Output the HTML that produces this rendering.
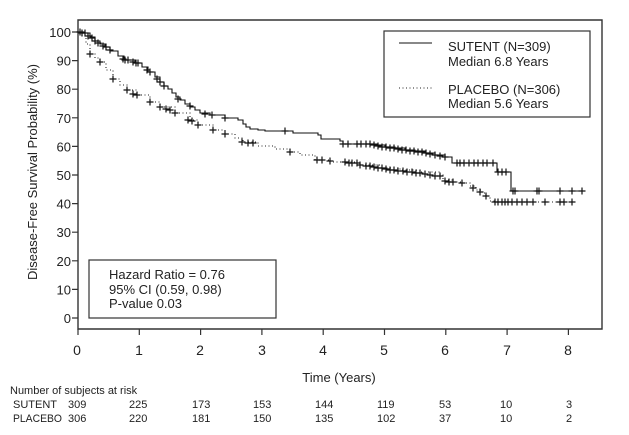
<!DOCTYPE html>
<html><head><meta charset="utf-8"><style>
html,body{margin:0;padding:0;background:#fff;}
svg{display:block;font-family:"Liberation Sans",Arial,sans-serif;}
</style></head><body>
<svg width="629" height="435" viewBox="0 0 629 435" xmlns="http://www.w3.org/2000/svg">
<defs>
<marker id="cr" markerUnits="userSpaceOnUse" markerWidth="10" markerHeight="10" refX="5" refY="5" overflow="visible">
<path d="M1.5 5H8.5M5 1.5V8.5" stroke="#111" stroke-width="1.2" fill="none"/>
</marker>
</defs>
<rect width="629" height="435" fill="#fff"/>
<!-- frame -->
<path d="M78 20H602V329H78Z" fill="none" stroke="#333" stroke-width="1.4"/>
<!-- y ticks -->
<g stroke="#333" stroke-width="1.2">
<path d="M72 32H78M72 60.6H78M72 89.2H78M72 117.8H78M72 146.4H78M72 175H78M72 203.6H78M72 232.2H78M72 260.8H78M72 289.4H78M72 318H78"/>
<path d="M78 329V335M139.3 329V335M200.6 329V335M261.9 329V335M323.2 329V335M384.5 329V335M445.8 329V335M507.1 329V335M568.4 329V335"/>
</g>
<g font-size="13" fill="#222" text-anchor="end">
<text x="71" y="37">100</text><text x="71" y="65.6">90</text><text x="71" y="94.2">80</text><text x="71" y="122.8">70</text><text x="71" y="151.4">60</text><text x="71" y="180">50</text><text x="71" y="208.6">40</text><text x="71" y="237.2">30</text><text x="71" y="265.8">20</text><text x="71" y="294.4">10</text><text x="71" y="323">0</text>
</g>
<g font-size="14" fill="#222" text-anchor="middle">
<text x="77" y="355">0</text><text x="139" y="355">1</text><text x="200" y="355">2</text><text x="262" y="355">3</text><text x="323" y="355">4</text><text x="384" y="355">5</text><text x="445" y="355">6</text><text x="507" y="355">7</text><text x="568" y="355">8</text>
</g>
<text x="339" y="382" font-size="13" fill="#222" text-anchor="middle">Time (Years)</text>
<text transform="translate(37,172) rotate(-90)" font-size="13" fill="#222" text-anchor="middle">Disease-Free Survival Probability (%)</text>

<!-- SUTENT solid step -->
<path fill="none" stroke="#111" stroke-width="1.1" d="M78 32H85V33H90V37H95V41H100V44H105V47H110V51H118V56H124V60H135V63H142V67H148V72H155V77H160V82H164V86H168V89H172V93H176V97H180V100H185V104H190V107H195V110H200V113H210V115H225V118H238V120H243V124H246V127H250V129H258V130H265V131H293V133H318V135H321V139H340V141H343V144H377V145H385V147H395V148H405V150H415V151H425V153H435V155H445V157H452V163H497V172H511V191H584"/>
<!-- PLACEBO dotted step -->
<path fill="none" stroke="#222" stroke-width="1.1" stroke-dasharray="1 2.5" d="M78 32H82V36H86V44H90V54H95V58H100V62H106V70H113V79H120V85H127V90H137V95H150V102H160V107H175V113H190V120H198V125H213V130H225V134H235V138H243V142H258V146H275V149H290V152H300V155H315V160H330V162H355V163H360V165H380V168H400V170H420V172H440V175H443V180H452V182H462V183H470V186H476V190H482V193H486V196H490V201H494V202H574"/>
<!-- censor marks SUTENT -->
<polyline fill="none" stroke="none" marker-start="url(#cr)" marker-mid="url(#cr)" marker-end="url(#cr)" points="80,32 82,33 85,33 88,36 92,38 95,41 98,43 103,46 106,47 110,50 123,59 125,60 128,60 133,62 136,63 138,63 147,70 150,72 157,79 160,82 164,86 178,99 190,106 205,114 212,115 225,118 285,131 343,144 348,144 357,144 361,144 366,144 370,144 374,145 378,146 382,147 386,147 390,148 394,148 398,149 402,150 406,150 410,151 414,151 418,152 422,152 426,153 430,154 435,155 440,156 445,157 457,163 460,163 464,163 469,163 474,163 478,163 483,163 487,163 493,163 498,172 502,172 506,172 513,191 515,191 537,191 539,191 560,191 572,191 582,191"/>
<!-- censor marks PLACEBO -->
<polyline fill="none" stroke="none" marker-start="url(#cr)" marker-mid="url(#cr)" marker-end="url(#cr)" points="90,54 100,62 113,79 127,90 133,94 137,95 150,102 160,107 166,109 170,110 175,113 188,120 192,121 198,125 213,130 225,134 242,142 248,143 253,143 290,152 317,160 322,160 330,161 345,162 349,163 352,163 357,163 360,165 366,166 370,166 374,167 378,168 382,168 386,169 390,170 394,170 398,171 403,171 407,172 412,172 416,173 420,173 425,174 430,175 435,176 440,176 445,181 449,182 453,182 462,183 473,188 480,192 486,196 495,202 498,202 502,202 505,202 508,202 512,202 517,202 522,202 527,202 533,202 545,202 560,202 564,202 572,202"/>

<!-- legend -->
<rect x="384" y="31" width="206" height="86" fill="#fff" stroke="#333" stroke-width="1.2"/>
<path d="M399 43H432" stroke="#111" stroke-width="1.1"/>
<path d="M399 88H432" stroke="#222" stroke-width="1.1" stroke-dasharray="1 2.5"/>
<g font-size="13" fill="#222">
<text x="448" y="51">SUTENT (N=309)</text>
<text x="448" y="66">Median 6.8 Years</text>
<text x="448" y="94">PLACEBO (N=306)</text>
<text x="448" y="108">Median 5.6 Years</text>
</g>
<!-- hazard box -->
<rect x="89" y="260" width="187" height="58" fill="#fff" stroke="#333" stroke-width="1.2"/>
<g font-size="13" fill="#222">
<text x="109" y="279">Hazard Ratio = 0.76</text>
<text x="109" y="294">95% CI (0.59, 0.98)</text>
<text x="109" y="308">P-value 0.03</text>
</g>
<!-- at risk -->
<g font-size="11" fill="#222">
<text x="10" y="394">Number of subjects at risk</text>
<text x="13" y="408">SUTENT</text>
<text x="13" y="422" textLength="49" lengthAdjust="spacingAndGlyphs">PLACEBO</text>
<text x="68" y="408">309</text><text x="129" y="408">225</text><text x="192" y="408">173</text><text x="253" y="408">153</text><text x="315" y="408">144</text><text x="377" y="408">119</text><text x="439" y="408">53</text><text x="500" y="408">10</text><text x="566" y="408">3</text>
<text x="68" y="422">306</text><text x="129" y="422">220</text><text x="192" y="422">181</text><text x="253" y="422">150</text><text x="315" y="422">135</text><text x="377" y="422">102</text><text x="439" y="422">37</text><text x="500" y="422">10</text><text x="566" y="422">2</text>
</g>
</svg>
</body></html>
